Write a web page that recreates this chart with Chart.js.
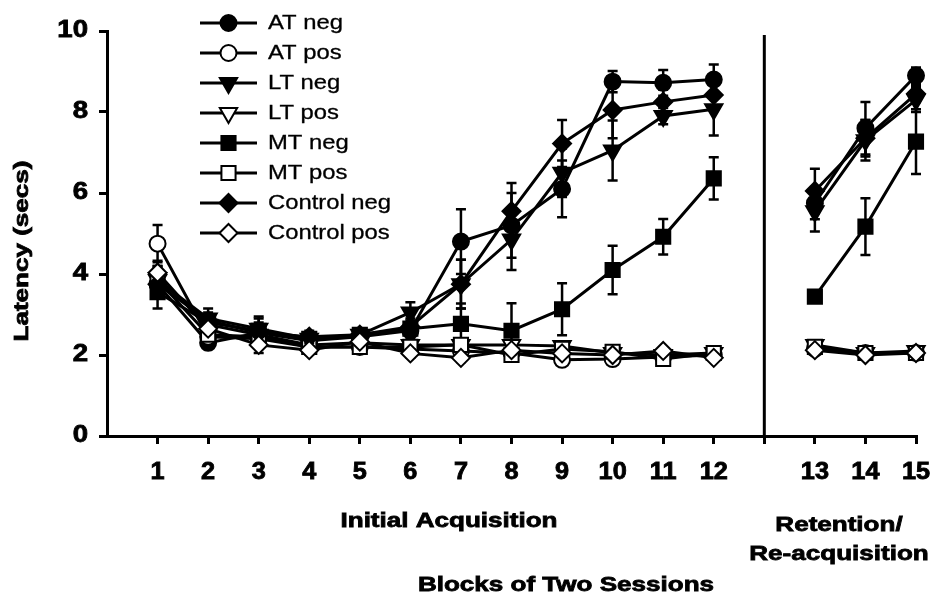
<!DOCTYPE html>
<html>
<head>
<meta charset="utf-8">
<script src="https://cdn.jsdelivr.net/npm/chart.js@4.4.0/dist/chart.umd.min.js"></script>
<style>
  html, body { margin: 0; padding: 0; background: #fff; }
  #wrap { width: 931px; height: 595px; }
</style>
</head>
<body>
<div id="wrap"><canvas id="chart" width="931" height="595"></canvas></div>
<script>
// Blocks of two sessions. Empty slots: one before block 1, one between the phases
const blocks = ['', '1', '2', '3', '4', '5', '6', '7', '8', '9', '10', '11', '12', '', '13', '14', '15'];
const yTicks = [0, 2, 4, 6, 8, 10];

// mean latency (secs) per block, null = no point
const atNeg      = [null, 3.75, 2.30, 2.55, 2.35, 2.45, 2.60, 4.80, 5.20, 6.10, 8.75, 8.72, 8.80, null, 5.75, 7.60, 8.90];
const atPos      = [null, 4.75, 2.45, 2.40, 2.20, 2.20, 2.15, 2.10, 2.05, 1.88, 1.90, 1.95, 2.00, null, 2.15, 2.05, 2.05];
const ltNeg      = [null, 3.85, 2.90, 2.65, 2.40, 2.50, 3.05, 3.75, 4.85, 6.50, 7.05, 7.90, 8.07, null, 5.55, 7.30, 8.30];
const ltPos      = [null, 3.90, 2.75, 2.50, 2.25, 2.30, 2.25, 2.25, 2.25, 2.22, 2.05, 2.00, 2.05, null, 2.25, 2.05, 2.10];
const mtNeg      = [null, 3.55, 2.80, 2.60, 2.40, 2.50, 2.65, 2.77, 2.60, 3.13, 4.10, 4.92, 6.36, null, 3.44, 5.17, 7.27];
const mtPos      = [null, 3.85, 2.50, 2.45, 2.20, 2.20, 2.20, 2.25, 2.00, 2.15, 2.08, 1.90, 2.05, null, 2.20, 2.05, 2.05];
const controlNeg = [null, 3.75, 2.85, 2.55, 2.45, 2.50, 2.70, 3.75, 5.55, 7.22, 8.05, 8.25, 8.42, null, 6.05, 7.35, 8.45];
const controlPos = [null, 4.03, 2.65, 2.25, 2.12, 2.33, 2.04, 1.93, 2.12, 2.04, 2.00, 2.10, 1.93, null, 2.12, 2.00, 2.05];

// standard errors
const atNegErr      = [null, 0.35, 0.15, 0.20, 0.15, 0.15, 0.20, 0.80, 0.80, 0.70, 0.26, 0.32, 0.37, null, 0.40, 0.65, 0.20];
const atPosErr      = [null, 0.46, 0.10, 0.10, 0.10, 0.10, 0.10, 0.10, 0.10, 0.10, 0.08, 0.08, 0.08, null, 0.10, 0.08, 0.08];
const ltNegErr      = [null, 0.35, 0.25, 0.30, 0.15, 0.15, 0.25, 0.60, 0.75, 0.60, 0.74, 0.20, 0.65, null, 0.50, 0.50, 0.30];
const ltPosErr      = [null, 0.30, 0.10, 0.10, 0.10, 0.10, 0.10, 0.10, 0.10, 0.10, 0.08, 0.08, 0.08, null, 0.10, 0.08, 0.08];
const mtNegErr      = [null, 0.40, 0.20, 0.30, 0.15, 0.15, 0.20, 0.50, 0.68, 0.64, 0.60, 0.44, 0.52, null, 0.15, 0.70, 0.80];
const mtPosErr      = [null, 0.30, 0.10, 0.10, 0.10, 0.10, 0.10, 0.10, 0.10, 0.10, 0.08, 0.08, 0.08, null, 0.10, 0.08, 0.08];
const controlNegErr = [null, 0.35, 0.20, 0.25, 0.15, 0.15, 0.20, 0.60, 0.70, 0.58, 0.70, 0.30, 0.30, null, 0.55, 0.45, 0.20];
const controlPosErr = [null, 0.30, 0.10, 0.20, 0.10, 0.10, 0.10, 0.10, 0.10, 0.10, 0.08, 0.08, 0.08, null, 0.10, 0.08, 0.08];

const series = [
  { label: 'AT neg',      data: atNeg,      err: atNegErr,      style: 'circle',   rot: 0,   r: 8,   filled: true },
  { label: 'AT pos',      data: atPos,      err: atPosErr,      style: 'circle',   rot: 0,   r: 8,   filled: false },
  { label: 'LT neg',      data: ltNeg,      err: ltNegErr,      style: 'triangle', rot: 180, r: 10,  filled: true },
  { label: 'LT pos',      data: ltPos,      err: ltPosErr,      style: 'triangle', rot: 180, r: 10,  filled: false },
  { label: 'MT neg',      data: mtNeg,      err: mtNegErr,      style: 'rect',     rot: 0,   r: 10,  filled: true },
  { label: 'MT pos',      data: mtPos,      err: mtPosErr,      style: 'rect',     rot: 0,   r: 10,  filled: false },
  { label: 'Control neg', data: controlNeg, err: controlNegErr, style: 'rectRot',  rot: 0,   r: 9,   filled: true },
  { label: 'Control pos', data: controlPos, err: controlPosErr, style: 'rectRot',  rot: 0,   r: 9,   filled: false }
];

// the original lettering is wide and heavy: stretch it and add a thin outline
function wideText(ctx, text, x, y, font, sx, align, rotate, heavy) {
  ctx.save();
  ctx.translate(x, y);
  if (rotate) ctx.rotate(rotate);
  ctx.scale(sx, 1);
  ctx.font = font;
  ctx.fillStyle = '#000';
  ctx.strokeStyle = '#000';
  ctx.textAlign = align;
  ctx.textBaseline = 'middle';
  ctx.fillText(text, 0, 0);
  if (heavy) {
    ctx.lineWidth = heavy;
    ctx.strokeText(text, 0, 0);
  }
  ctx.restore();
}

// error bars, drawn just before each dataset so the markers sit on top
const errorBars = {
  id: 'errorBars',
  beforeDatasetDraw(chart, args) {
    const s = series[args.index];
    const yScale = chart.scales.y;
    const ctx = chart.ctx;
    ctx.save();
    ctx.strokeStyle = '#000';
    ctx.lineWidth = 2.5;
    args.meta.data.forEach((pt, j) => {
      const v = s.data[j], e = s.err[j];
      if (v == null || e == null) return;
      const top = yScale.getPixelForValue(v + e);
      const bot = yScale.getPixelForValue(v - e);
      ctx.beginPath();
      ctx.moveTo(pt.x, top); ctx.lineTo(pt.x, bot);
      ctx.moveTo(pt.x - 5, top); ctx.lineTo(pt.x + 5, top);
      ctx.moveTo(pt.x - 5, bot); ctx.lineTo(pt.x + 5, bot);
      ctx.stroke();
    });
    ctx.restore();
  }
};

// divider, tick labels, titles and the legend
const decorations = {
  id: 'decorations',
  afterDraw(chart) {
    const ctx = chart.ctx;
    const xs = chart.scales.x, ys = chart.scales.y;
    const area = chart.chartArea;

    // phase divider at the empty slot
    const xd = xs.getPixelForValue(13);
    ctx.save();
    ctx.strokeStyle = '#000';
    ctx.lineWidth = 3;
    ctx.beginPath();
    ctx.moveTo(xd, area.top + 4);
    ctx.lineTo(xd, area.bottom);
    ctx.stroke();
    ctx.restore();

    const tickFont = 'bold 23px "Liberation Sans", Arial';
    ys.ticks.forEach((t, i) => {
      wideText(ctx, String(t.value), 88, ys.getPixelForTick(i), tickFont, 1.2, 'right', 0, 0.8);
    });
    xs.ticks.forEach((t, i) => {
      const lab = blocks[t.value];
      if (lab) wideText(ctx, lab, xs.getPixelForTick(i), 473, tickFont, 1.1, 'center', 0, 0.8);
    });

    const bold = 'bold 21px "Liberation Sans", Arial';
    wideText(ctx, 'Initial Acquisition', 449, 521, bold, 1.24, 'center', 0, 0.8);
    wideText(ctx, 'Retention/', 839, 525, bold, 1.24, 'center', 0, 0.8);
    wideText(ctx, 'Re-acquisition', 839, 554, bold, 1.24, 'center', 0, 0.8);
    wideText(ctx, 'Blocks of Two Sessions', 566, 585, bold, 1.24, 'center', 0, 0.8);
    wideText(ctx, 'Latency (secs)', 22, 251, bold, 1.24, 'center', -Math.PI / 2, 0.8);

    // legend: line sample with marker
    series.forEach((s, i) => {
      const y = 23 + i * 30;
      ctx.save();
      ctx.strokeStyle = '#000';
      ctx.lineWidth = 3;
      ctx.beginPath();
      ctx.moveTo(200, y); ctx.lineTo(257, y);
      ctx.stroke();
      ctx.fillStyle = s.filled ? '#000' : '#fff';
      ctx.lineWidth = 2;
      Chart.helpers.drawPoint(ctx, { pointStyle: s.style, radius: s.r, rotation: s.rot, borderWidth: 2 }, 228.5, y);
      ctx.restore();
      wideText(ctx, s.label, 268, y, '20px "Liberation Sans", Arial', 1.19, 'left', 0, 0.3);
    });
  }
};

new Chart(document.getElementById('chart'), {
  type: 'line',
  data: {
    labels: blocks,
    datasets: series.map((s, i) => ({
      label: s.label,
      data: s.data,
      borderColor: '#000',
      borderWidth: 3,
      pointStyle: s.style,
      pointRotation: s.rot,
      pointRadius: s.r,
      pointHoverRadius: s.r,
      pointBackgroundColor: s.filled ? '#000' : '#fff',
      pointBorderColor: '#000',
      pointBorderWidth: 2,
      spanGaps: false,
      tension: 0,
      clip: false,
      order: series.length - i
    }))
  },
  options: {
    responsive: false,
    animation: false,
    devicePixelRatio: 1,
    layout: { padding: { top: 31, right: 15, left: 0, bottom: 0 } },
    plugins: { legend: { display: false }, tooltip: { enabled: false } },
    scales: {
      x: {
        type: 'category',
        offset: false,
        border: { color: '#000', width: 3 },
        grid: {
          drawOnChartArea: false,
          tickLength: 8,
          lineWidth: 3,
          color: (c) => (c.index === 0 ? 'rgba(0,0,0,0)' : '#000')
        },
        ticks: { display: false, autoSkip: false },
        afterFit: (s) => { s.height = 159; }
      },
      y: {
        min: 0,
        max: 10,
        border: { color: '#000', width: 3 },
        grid: { drawOnChartArea: false, tickLength: 8, lineWidth: 3, color: '#000' },
        ticks: { display: false, stepSize: 2 },
        afterBuildTicks: (s) => { s.ticks = yTicks.map((v) => ({ value: v })); },
        afterFit: (s) => { s.width = 107; }
      }
    }
  },
  plugins: [errorBars, decorations]
});
</script>
</body>
</html>
